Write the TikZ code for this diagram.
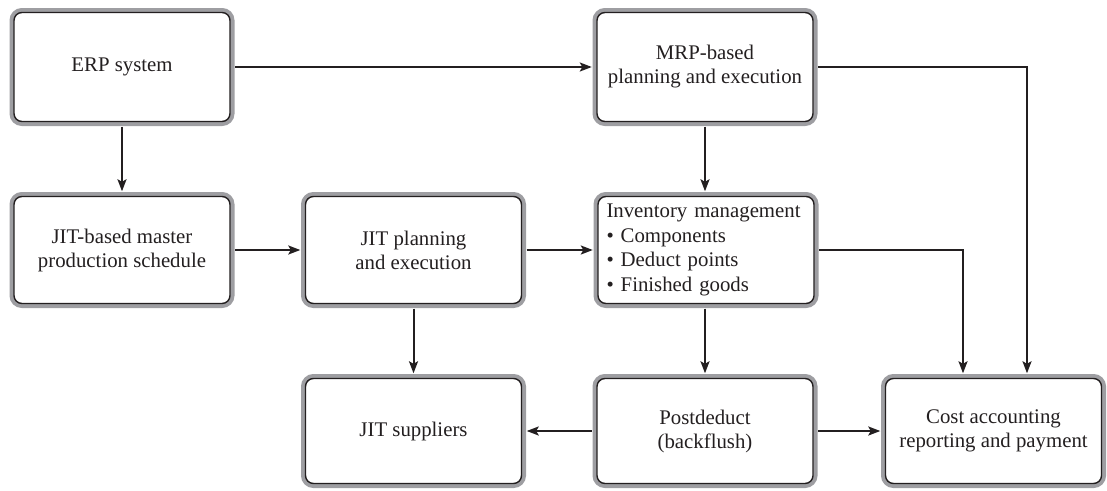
\documentclass[tikz,border=0pt]{standalone}
\usepackage{fontspec}
\setmainfont{Liberation Serif}
\usetikzlibrary{arrows.meta}
\definecolor{ink}{RGB}{35,31,32}
\definecolor{rim}{RGB}{158,158,162}
\begin{document}
\begin{tikzpicture}[x=1pt,y=-1pt,
  box/.style={draw=ink, line width=1.4pt, fill=white, rounded corners=8pt,
    minimum width=216pt, minimum height=107pt, align=center, inner sep=0pt,
    font=\fontsize{20.8}{24}\selectfont, text=ink,
    preaction={draw=rim, line width=9pt}},
  arr/.style={draw=ink, line width=2pt, shorten <=4.5pt, shorten >=4.5pt,
    -{Stealth[length=12pt,width=9pt,inset=2.5pt]}}]
\useasboundingbox (0,0) rectangle (1107,490);
\node[box, minimum height=109pt] (erp) at (122,67) {ERP system};
\node[box, minimum height=109pt] (mrp) at (705,67) {MRP-based\\planning and execution};
\node[box] (jmps) at (122,250) {JIT-based master\\production schedule};
\node[box] (jpe) at (413.5,250) {JIT planning\\and execution};
\node[box, align=left, text width=199pt, font=\fontsize{20.8}{24.5}\selectfont] (inv) at (706,250) {Inventory management\\• Components\\• Deduct points\\• Finished goods};
\node[box, minimum height=105pt] (sup) at (413.5,431) {JIT suppliers};
\node[box, minimum height=105pt] (post) at (705,431) {Postdeduct\\(backflush)};
\node[box, minimum height=105pt] (cost) at (993.5,431) {Cost accounting\\reporting and payment};
\draw[arr] (erp.east) -- (mrp.west);
\draw[arr] (erp.south) -- (jmps.north);
\draw[arr] (mrp.south) -- (inv.north -| mrp.south);
\draw[arr] (jmps.east) -- (jpe.west);
\draw[arr] (jpe.east) -- (inv.west);
\draw[arr] (jpe.south) -- (sup.north);
\draw[arr] (inv.south -| post.north) -- (post.north);
\draw[arr] (post.west) -- (sup.east);
\draw[arr] (post.east) -- (cost.west);
\draw[arr] (mrp.east) -| ([xshift=33.5pt]cost.north);
\draw[arr] (inv.east) -| ([xshift=-30.5pt]cost.north);
\end{tikzpicture}
\end{document}
